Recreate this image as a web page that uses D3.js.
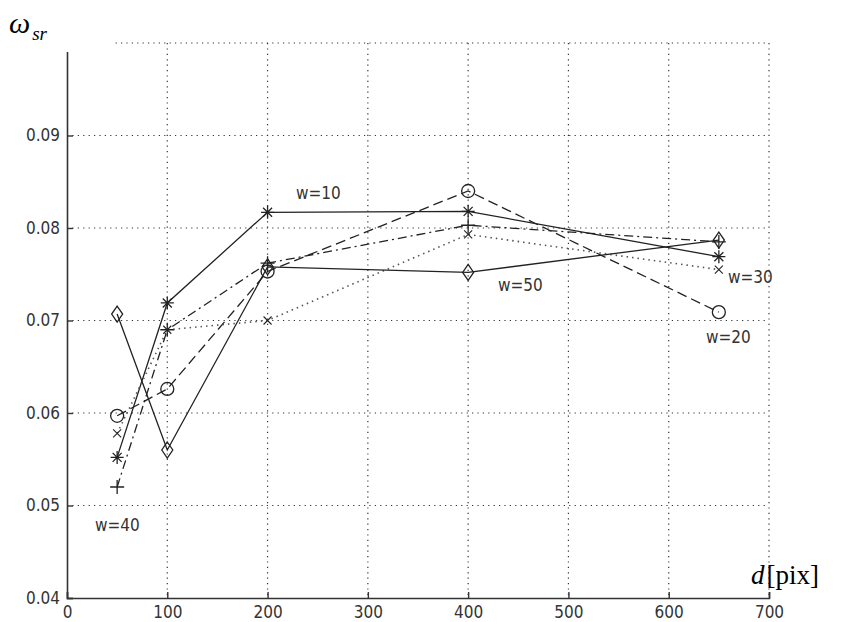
<!DOCTYPE html>
<html>
<head>
<meta charset="utf-8">
<script src="https://cdn.jsdelivr.net/npm/d3@7"></script>
<style>
  body { margin: 0; background: #fff; }
  .tick-label { font-family: "DejaVu Sans Condensed", "Liberation Sans Narrow", sans-serif; font-stretch: condensed; font-size: 17px; fill: #333; }
  .series-label { font-family: "DejaVu Sans Condensed", "Liberation Sans Narrow", sans-serif; font-stretch: condensed; font-size: 17px; fill: #333; }
</style>
</head>
<body>
<svg id="chart" width="853" height="622"></svg>
<script>
// d values on the x axis
var dValues = [50, 100, 200, 400, 650];

// omega_sr for each window size w
var w10 = [0.0552, 0.0719, 0.0817, 0.0818, 0.0769];
var w20 = [0.0597, 0.0626, 0.0753, 0.0840, 0.0709];
var w30 = [0.0578, 0.0690, 0.0700, 0.0793, 0.0755];
var w40 = [0.0520, 0.0690, 0.0762, 0.0803, 0.0785];
var w50 = [0.0707, 0.0560, 0.0758, 0.0752, 0.0787];

var xTicks = [0, 100, 200, 300, 400, 500, 600, 700];
var yTicks = [0.04, 0.05, 0.06, 0.07, 0.08, 0.09, 0.1];
// the 0.1 label is hidden under the axis title in the source
var yTickLabels = ["0.04", "0.05", "0.06", "0.07", "0.08", "0.09", ""];

var series = [
    { name: "w=10", values: w10, marker: "star",    dash: null,      lx: 296, ly: 199 },
    { name: "w=20", values: w20, marker: "circle",  dash: "10,5",    lx: 706, ly: 343 },
    { name: "w=30", values: w30, marker: "x",       dash: "1.5,4",   lx: 728, ly: 283 },
    { name: "w=40", values: w40, marker: "plus",    dash: "9,4,2,4", lx: 95,  ly: 531 },
    { name: "w=50", values: w50, marker: "diamond", dash: null,      lx: 498, ly: 291 }
];

var svg = d3.select("#chart");

var x = d3.scaleLinear().domain([0, 700]).range([67, 769]);
var y = d3.scaleLinear().domain([0.04, 0.1]).range([598, 43]);

// grid
var grid = svg.append("g");
grid.selectAll(".vgrid")
    .data(xTicks.slice(1))
    .enter().append("line")
    .attr("x1", d => x(d)).attr("x2", d => x(d))
    .attr("y1", y(0.1)).attr("y2", y(0.04))
    .attr("stroke", "#333").attr("stroke-width", 1.2)
    .attr("stroke-dasharray", "1.2,4.2");
grid.selectAll(".hgrid")
    .data(yTicks.slice(1))
    .enter().append("line")
    .attr("x1", x(0)).attr("x2", x(700))
    .attr("y1", d => y(d)).attr("y2", d => y(d))
    .attr("stroke", "#333").attr("stroke-width", 1.2)
    .attr("stroke-dasharray", "1.2,4.2");

// axes
var xAxis = d3.axisBottom(x).tickValues(xTicks).tickSize(-6).tickPadding(10)
    .tickFormat(d3.format("d"));
var yAxis = d3.axisLeft(y).tickValues(yTicks).tickSize(-6).tickPadding(7)
    .tickFormat((d, i) => yTickLabels[i]);

var gx = svg.append("g").attr("transform", "translate(0," + y(0.04) + ")").call(xAxis);
var gy = svg.append("g").attr("transform", "translate(" + x(0) + ",0)").call(yAxis);
[gx, gy].forEach(function (g) {
    g.select(".domain").attr("stroke", "#333").attr("stroke-width", 1.6);
    g.selectAll(".tick line").attr("stroke", "#333").attr("stroke-width", 1.4);
    g.selectAll(".tick text").attr("class", "tick-label").attr("fill", "#333");
});
gx.selectAll(".tick text").attr("dy", "0.6em");

// markers
function markerPath(type, cx, cy) {
    var p = d3.path();
    var s = 6.5;
    if (type === "circle") {
        p.moveTo(cx + 6.5, cy);
        p.arc(cx, cy, 6.5, 0, 2 * Math.PI);
    } else if (type === "diamond") {
        p.moveTo(cx, cy - 8); p.lineTo(cx + 5.5, cy); p.lineTo(cx, cy + 8); p.lineTo(cx - 5.5, cy); p.closePath();
    } else if (type === "plus") {
        p.moveTo(cx - 7, cy); p.lineTo(cx + 7, cy);
        p.moveTo(cx, cy - 7); p.lineTo(cx, cy + 7);
    } else if (type === "x") {
        var k = 4;
        p.moveTo(cx - k, cy - k); p.lineTo(cx + k, cy + k);
        p.moveTo(cx - k, cy + k); p.lineTo(cx + k, cy - k);
    } else if (type === "star") {
        p.moveTo(cx - s, cy); p.lineTo(cx + s, cy);
        p.moveTo(cx, cy - s); p.lineTo(cx, cy + s);
        var k2 = 4.5;
        p.moveTo(cx - k2, cy - k2); p.lineTo(cx + k2, cy + k2);
        p.moveTo(cx - k2, cy + k2); p.lineTo(cx + k2, cy - k2);
    }
    return p.toString();
}

var line = d3.line()
    .x((d, i) => x(dValues[i]))
    .y(d => y(d));

var sg = svg.selectAll(".series")
    .data(series)
    .enter().append("g")
    .attr("class", "series");

sg.append("path")
    .attr("d", d => line(d.values))
    .attr("fill", "none")
    .attr("stroke", d => d.marker === "x" ? "#555" : "#222")
    .attr("stroke-width", d => d.marker === "x" ? 1.6 : 1.3)
    .attr("stroke-dasharray", d => d.dash);

sg.each(function (s) {
    d3.select(this).selectAll(".mk")
        .data(s.values)
        .enter().append("path")
        .attr("d", (v, i) => markerPath(s.marker, x(dValues[i]), y(v)))
        .attr("fill", "none")
        .attr("stroke", "#222")
        .attr("stroke-width", s.marker === "x" ? 1.1 : 1.3);
});

sg.append("text")
    .attr("class", "series-label")
    .attr("x", d => d.lx)
    .attr("y", d => d.ly)
    .text(d => d.name);

// the top-left corner is blank in the source
svg.append("rect").attr("x", 0).attr("y", 0).attr("width", 113).attr("height", 52).attr("fill", "#fff");

// axis titles
var yt = svg.append("text")
    .attr("x", 9).attr("y", 33)
    .attr("font-family", "'Liberation Serif', 'Times New Roman', serif")
    .attr("font-style", "italic")
    .attr("font-size", 30);
yt.append("tspan").text("\u03C9");
yt.append("tspan").attr("font-size", 19).attr("dy", 7).attr("dx", 2).text("sr");

var xt = svg.append("text")
    .attr("x", 751).attr("y", 584)
    .attr("font-family", "'Liberation Serif', 'Times New Roman', serif")
    .attr("font-size", 27);
xt.append("tspan").attr("font-style", "italic").text("d");
xt.append("tspan").attr("dx", 2).text("[pix]");
</script>
</body>
</html>
